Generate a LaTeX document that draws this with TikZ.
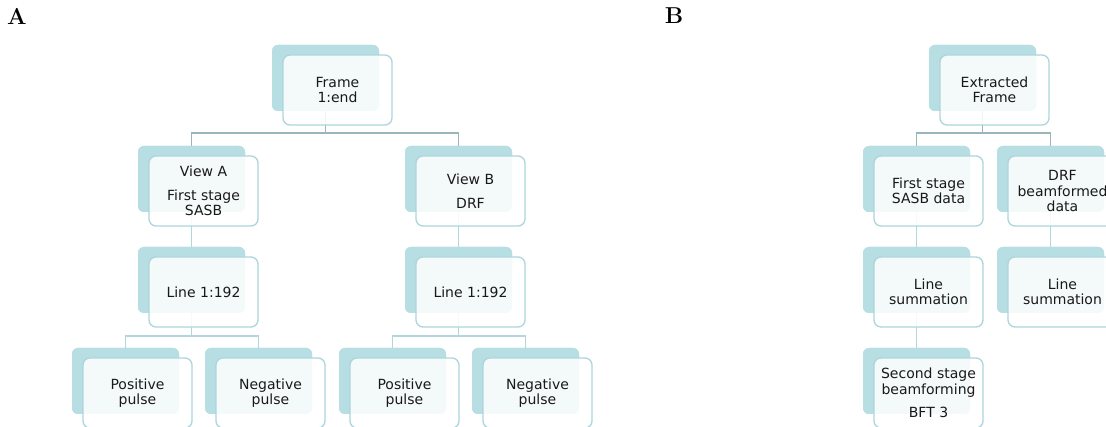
\documentclass[tikz,border=0pt]{standalone}
\usepackage{fontspec}
\newfontfamily\dvsans{DejaVu Sans}
\definecolor{backc}{HTML}{B7DEE2}
\definecolor{frontc}{HTML}{ACD6DC}
\definecolor{connA}{HTML}{98B6BB}
\definecolor{connB}{HTML}{B2D6DB}
\tikzset{
  backbox/.style={draw=none, fill=backc, rounded corners=6pt, minimum width=107pt, minimum height=66pt, inner sep=0pt, outer sep=0pt, anchor=north west},
  frontbox/.style={draw=frontc, line width=1.3pt, fill=white, fill opacity=0.86, text opacity=1, rounded corners=7pt, minimum width=109pt, minimum height=70pt, inner sep=0pt, outer sep=0pt, align=center, font=\dvsans\fontsize{14}{15.5}\selectfont, text=black!90},
  topconn/.style={draw=connA, line width=1.5pt},
  subconn/.style={draw=connB, line width=1.5pt},
  panel/.style={font=\fontsize{23}{23}\selectfont\bfseries, inner sep=0pt}
}
\begin{document}
\begin{tikzpicture}[x=1pt,y=-1pt]
\useasboundingbox (0,0) rectangle (1106,427);
\clip (0,0) rectangle (1106,427);
\fill[white] (0,0) rectangle (1106,427);
\node[panel] (labA) at (17,16) {A};
\node[panel] (labB) at (674,16) {B};
% bus coordinates
\coordinate (busL) at (325,133);
\coordinate (busLA) at (191,336);
\coordinate (busLB) at (458,336);
\coordinate (busR) at (982,133);
% back boxes
\node[backbox] (frame-b) at (272,45) {};
\node[backbox] (viewA-b) at (138,146) {};
\node[backbox] (viewB-b) at (405,146) {};
\node[backbox] (lineA-b) at (138,247) {};
\node[backbox] (lineB-b) at (405,247) {};
\node[backbox] (posA-b) at (72,348) {};
\node[backbox] (negA-b) at (205,348) {};
\node[backbox] (posB-b) at (339,348) {};
\node[backbox] (negB-b) at (472,348) {};
\node[backbox] (extr-b) at (929,45) {};
\node[backbox] (first-b) at (863,146) {};
\node[backbox] (drf-b) at (997,146) {};
\node[backbox] (sumA-b) at (863,247) {};
\node[backbox] (sumB-b) at (997,247) {};
\node[backbox] (second-b) at (863,348) {};
% connectors
\draw[topconn] (frame-b.south) -- (frame-b.south |- busL);
\draw[topconn] (viewA-b.north) |- (viewB-b.north |- busL) -- (viewB-b.north);
\draw[subconn] (viewA-b.south) -- (lineA-b.north);
\draw[subconn] (viewB-b.south) -- (lineB-b.north);
\draw[subconn] (lineA-b.south) -- (lineA-b.south |- busLA);
\draw[subconn] (posA-b.north) |- (negA-b.north |- busLA) -- (negA-b.north);
\draw[subconn] (lineB-b.south) -- (lineB-b.south |- busLB);
\draw[subconn] (posB-b.north) |- (negB-b.north |- busLB) -- (negB-b.north);
\draw[topconn] (extr-b.south) -- (extr-b.south |- busR);
\draw[topconn] (first-b.north) |- (drf-b.north |- busR) -- (drf-b.north);
\draw[subconn] (first-b.south) -- (sumA-b.north);
\draw[subconn] (drf-b.south) -- (sumB-b.north);
\draw[subconn] (sumA-b.south) -- (second-b.north);
% redraw back boxes over connector ends
\foreach \n/\x/\y in {frame/272/45, viewA/138/146, viewB/405/146, lineA/138/247, lineB/405/247, posA/72/348, negA/205/348, posB/339/348, negB/472/348, extr/929/45, first/863/146, drf/997/146, sumA/863/247, sumB/997/247, second/863/348}
  \fill[backc, rounded corners=6pt] (\x,\y) rectangle ++(107,66);
% front boxes
\node[frontbox] (frame) at (337.5,90) {Frame\\1:end};
\node[frontbox] (viewA) at (203.5,191) {View A\\[8pt]First stage\\SASB};
\node[frontbox] (viewB) at (470.5,191) {View B\\[8pt]DRF};
\node[frontbox] (lineA) at (203.5,292) {Line 1:192};
\node[frontbox] (lineB) at (470.5,292) {Line 1:192};
\node[frontbox] (posA) at (137.5,393) {Positive\\pulse};
\node[frontbox] (negA) at (270.5,393) {Negative\\pulse};
\node[frontbox] (posB) at (404.5,393) {Positive\\pulse};
\node[frontbox] (negB) at (537.5,393) {Negative\\pulse};
\node[frontbox] (extr) at (994.5,90) {Extracted\\Frame};
\node[frontbox] (first) at (928.5,191) {First stage\\SASB data};
\node[frontbox, text width=109pt] (drf) at (1062.5,191) {DRF\\beamformed\\data};
\node[frontbox] (sumA) at (928.5,292) {Line\\summation};
\node[frontbox] (sumB) at (1062.5,292) {Line\\summation};
\node[frontbox] (second) at (928.5,393) {Second stage\\beamforming\\[8pt]BFT 3};
\end{tikzpicture}
\end{document}
